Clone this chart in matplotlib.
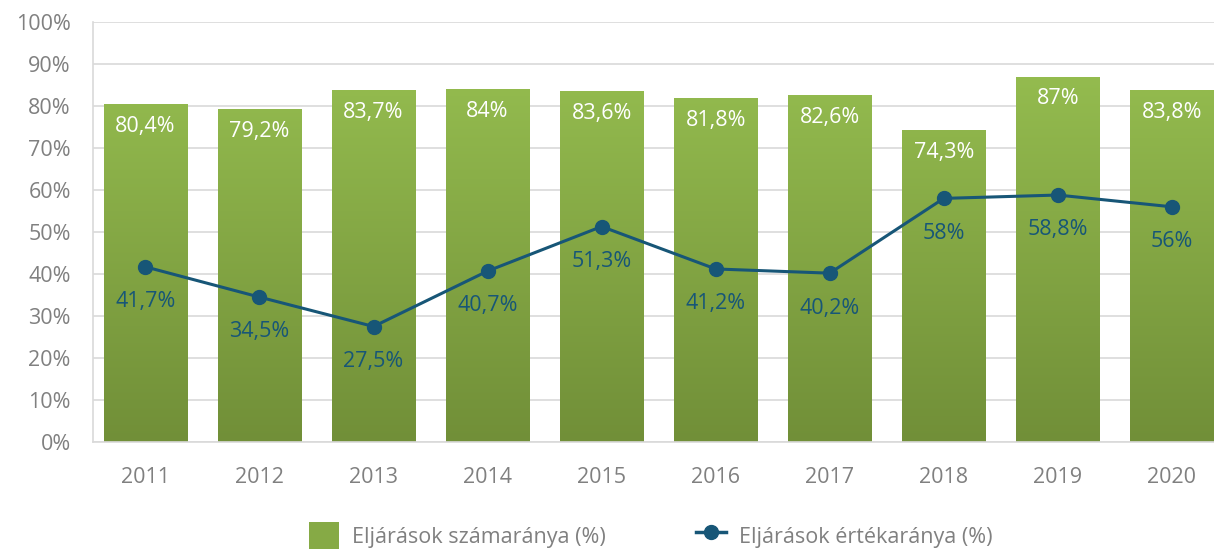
import numpy as np
import matplotlib
matplotlib.use("Agg")
import matplotlib.pyplot as plt
from matplotlib.colors import LinearSegmentedColormap
from matplotlib.lines import Line2D
from matplotlib.patches import Patch

years = ["2011", "2012", "2013", "2014", "2015", "2016", "2017", "2018", "2019", "2020"]
szamarany = [80.4, 79.2, 83.7, 84.0, 83.6, 81.8, 82.6, 74.3, 87.0, 83.8]
szamarany_labels = ["80,4%", "79,2%", "83,7%", "84%", "83,6%", "81,8%", "82,6%", "74,3%", "87%", "83,8%"]
ertekarany = [41.7, 34.5, 27.5, 40.7, 51.3, 41.2, 40.2, 58.0, 58.8, 56.0]
ertekarany_labels = ["41,7%", "34,5%", "27,5%", "40,7%", "51,3%", "41,2%", "40,2%", "58%", "58,8%", "56%"]
yticks = [0, 10, 20, 30, 40, 50, 60, 70, 80, 90, 100]

plt.rcParams['font.family'] = ['Open Sans', 'DejaVu Sans']
FS = 15.5

W, H = 1214, 551
fig = plt.figure(figsize=(W / 100, H / 100), dpi=100)
ax = fig.add_axes([93 / W, (H - 442) / H, (W - 93) / W, 420 / H])

x = np.arange(len(years))
bw = 0.73
top_c = "#99c252"
bot_c = "#718f38"
cmap = LinearSegmentedColormap.from_list("g", [bot_c, top_c])

bars = ax.bar(x, szamarany, width=bw, color="none", edgecolor="none", zorder=2)
grad = np.linspace(0, 1, 256).reshape(-1, 1)
for b in bars:
    x0 = b.get_x()
    w = b.get_width()
    im = ax.imshow(grad, extent=[x0, x0 + w, 0, 100], origin="lower", cmap=cmap,
                   aspect="auto", zorder=2)
    im.set_clip_path(b)

for xi, v, lab in zip(x, szamarany, szamarany_labels):
    ax.text(xi, v - 5.3, lab, ha="center", va="center", color="white", fontsize=FS, zorder=5)

line_c = "#175677"
ax.plot(x, ertekarany, color=line_c, lw=2.2, marker="o", markersize=10, zorder=4)
for xi, v, lab in zip(x, ertekarany, ertekarany_labels):
    ax.text(xi, v - 8.3, lab, ha="center", va="center", color=line_c, fontsize=FS, zorder=5)

ax.set_xlim(-0.46, 9.37)
ax.set_ylim(0, 100)
ax.set_yticks(yticks)
ax.set_yticklabels([f"{t}%" for t in yticks])
ax.set_xticks(x)
ax.set_xticklabels(years)
ax.tick_params(axis="both", length=0, colors="#808080", labelsize=FS)
ax.tick_params(axis="x", pad=18)
ax.tick_params(axis="y", pad=16)
ax.grid(axis="y", color="#d9d9d9", lw=1.2, zorder=0)
ax.set_axisbelow(True)
for s in ["top", "right"]:
    ax.spines[s].set_visible(False)
for s in ["left", "bottom"]:
    ax.spines[s].set_color("#d9d9d9")
    ax.spines[s].set_linewidth(1.2)

handles = [Patch(facecolor="#86aa45", edgecolor="none"),
           Line2D([0], [0], color=line_c, lw=2.5, marker="o", markersize=10)]
fig.legend(handles, ["Eljárások számaránya (%)", "Eljárások értékaránya (%)"],
           loc="center", bbox_to_anchor=(0.536, 0.028), ncol=2, frameon=False,
           fontsize=FS, labelcolor="#808080", columnspacing=4.2, handlelength=1.4,
           handleheight=1.6, handletextpad=0.6)

fig.savefig("out.png", dpi=100)
